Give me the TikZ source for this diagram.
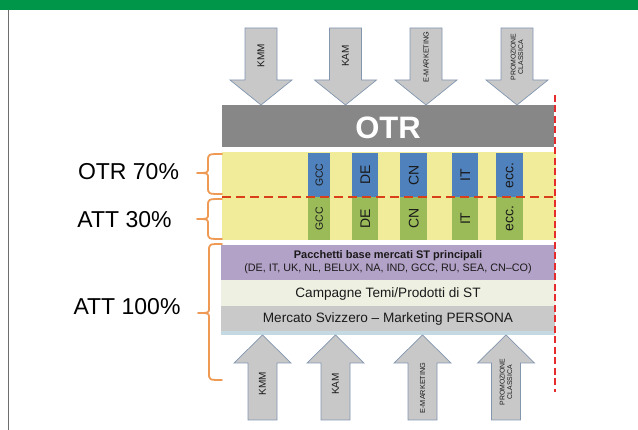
\documentclass[tikz,border=0pt]{standalone}
\usepackage{fontspec}
\setmainfont{Liberation Sans}
\definecolor{topgreen}{HTML}{00964A}
\definecolor{leftline}{HTML}{6E6E6E}
\definecolor{arrgray}{HTML}{C8C8C8}
\definecolor{arrline}{HTML}{8296B0}
\definecolor{otrgray}{HTML}{878787}
\definecolor{bandyellow}{HTML}{F1EC9A}
\definecolor{boxblue}{HTML}{4F81BD}
\definecolor{boxgreen}{HTML}{9BBB59}
\definecolor{boxpurple}{HTML}{B3A2C7}
\definecolor{boxcream}{HTML}{EEF0E2}
\definecolor{boxgray}{HTML}{C9C9C9}
\definecolor{stripblue}{HTML}{C5D9E3}
\definecolor{braceorange}{HTML}{EE9A55}
\definecolor{redline}{HTML}{E52B2B}
\definecolor{reddash}{HTML}{D9401A}
\definecolor{txt}{HTML}{1A1A1A}
\newcommand\mybrace[6]{\draw[bracestyle] (#1,#2) .. controls (#3,#2) .. (#3,#2+7) -- (#3,#4-5) .. controls (#3,#4) .. (#5,#4) .. controls (#3,#4) .. (#3,#4+5) -- (#3,#6-7) .. controls (#3,#6) .. (#1,#6);}
\begin{document}
\begin{tikzpicture}[x=1pt,y=-1pt,
  arrowbox/.style={fill=arrgray, draw=arrline, line width=0.7pt, line join=miter},
  downarrow/.pic={\path[arrowbox] (-16,0) -- (16,0) -- (16,52) -- (31,52) -- (0,77) -- (-31,52) -- (-16,52) -- cycle;},
  uparrow/.pic={\path[arrowbox] (0,0) -- (28.5,28) -- (14.5,28) -- (14.5,85) -- (-14.5,85) -- (-14.5,28) -- (-28.5,28) -- cycle;},
  box/.style={draw=none, inner sep=0pt, anchor=north west, text=txt},
  arrlabel/.style={rotate=90, inner sep=0pt, text=txt, align=center},
  vlabel/.style={rotate=90, inner sep=0pt, text=txt},
  sidelabel/.style={inner sep=0pt, text=black, font=\fontsize{23}{26}\selectfont},
  bracestyle/.style={draw=braceorange, line width=1.8pt, line cap=round, line join=round},
]
\useasboundingbox (0,0) rectangle (638,430);
\fill[topgreen] (0,0) rectangle (638,10);
\draw[leftline, line width=1.6pt] (8.5,10) -- (8.5,430);

% top arrows
\pic at (261,28) {downarrow};
\pic at (345.5,28) {downarrow};
\pic at (426,28) {downarrow};
\pic at (517,28) {downarrow};
\node[arrlabel, font=\fontsize{10}{11}\selectfont] (tkmm) at (261,56) {KMM};
\node[arrlabel, font=\fontsize{10}{11}\selectfont] (tkam) at (345.5,56) {KAM};
\node[arrlabel, font=\fontsize{7.3}{8}\selectfont] (temk) at (426,57) {E-MARKETING};
\node[arrlabel, font=\fontsize{6.9}{7.6}\selectfont] (tpro) at (517,57) {PROMOZIONE\\CLASSICA};

% OTR bar
\node[box, fill=otrgray, minimum width=332pt, minimum height=42pt] (otr) at (222,105) {};
\node[text=white, inner sep=0pt, font=\bfseries\fontsize{31}{31}\selectfont] (otrt) at (388,128) {OTR};

% yellow band
\node[box, fill=bandyellow, minimum width=334pt, minimum height=88pt] (band) at (222,152) {};
% blue and green boxes
\foreach \n/\x/\w/\lab/\fs in {a/308/22/GCC/10.5, b/352/26/DE/14, c/400/27/CN/14, d/452/26/IT/14, e/496/27/ecc./14}{
  \node[box, fill=boxblue, minimum width=\w pt, minimum height=44pt] (blue\n) at (\x,153) {};
  \node[box, fill=boxgreen, minimum width=\w pt, minimum height=43pt] (green\n) at (\x,197) {};
  \node[vlabel, font=\fontsize{\fs}{\fs}\selectfont] at (blue\n.center) {\lab};
  \node[vlabel, font=\fontsize{\fs}{\fs}\selectfont] at (green\n.center) {\lab};
}
\draw[reddash, line width=2.2pt, dash pattern=on 9pt off 5pt] (222,197) -- (556,197);

% lower boxes
\node[box, fill=boxpurple, minimum width=334pt, minimum height=35pt] (pack) at (221,245) {};
\node[inner sep=0pt, text=txt, font=\bfseries\fontsize{11}{12}\selectfont] (packt1) at (388,255.5) {Pacchetti base mercati ST principali};
\node[inner sep=0pt, text=txt, font=\fontsize{10.8}{12}\selectfont] (packt2) at (388,269) {(DE, IT, UK, NL, BELUX, NA, IND, GCC, RU, SEA, CN–CO)};
\node[box, fill=boxcream, minimum width=334pt, minimum height=26pt] (camp) at (221,280) {};
\node[inner sep=0pt, text=txt, font=\fontsize{13.6}{15}\selectfont] (campt) at (388,294) {Campagne Temi/Prodotti di ST};
\node[box, fill=boxgray, minimum width=334pt, minimum height=25pt] (merc) at (221,306) {};
\node[inner sep=0pt, text=txt, font=\fontsize{13.6}{15}\selectfont] (merct) at (388,319) {Mercato Svizzero – Marketing PERSONA};
\node[box, fill=stripblue, minimum width=334pt, minimum height=4pt] (strip) at (221,331) {};

% bottom arrows
\pic at (262.5,335) {uparrow};
\pic at (335.5,335) {uparrow};
\pic at (422.5,335) {uparrow};
\pic at (506,335) {uparrow};
\node[arrlabel, font=\fontsize{10}{11}\selectfont] (bkmm) at (262.5,384) {KMM};
\node[arrlabel, font=\fontsize{10}{11}\selectfont] (bkam) at (335.5,384) {KAM};
\node[arrlabel, font=\fontsize{7.3}{8}\selectfont] (bemk) at (422.5,388) {E-MARKETING};
\node[arrlabel, font=\fontsize{6.9}{7.6}\selectfont] (bpro) at (506,382) {PROMOZIONE\\CLASSICA};

% red vertical dashed line
\draw[redline, line width=2pt, dash pattern=on 7pt off 3.5pt] (555,95) -- (555,392);

% side labels and braces
\node[sidelabel] (l1) at (128.5,172) {OTR 70\%};
\node[sidelabel] (l2) at (124.5,220) {ATT 30\%};
\node[sidelabel] (l3) at (127,307) {ATT 100\%};
\mybrace{222}{154}{208}{173}{197}{194}
\mybrace{222}{199}{208}{219}{197}{239}
\mybrace{222}{244}{209}{313}{198}{380}
\end{tikzpicture}
\end{document}
